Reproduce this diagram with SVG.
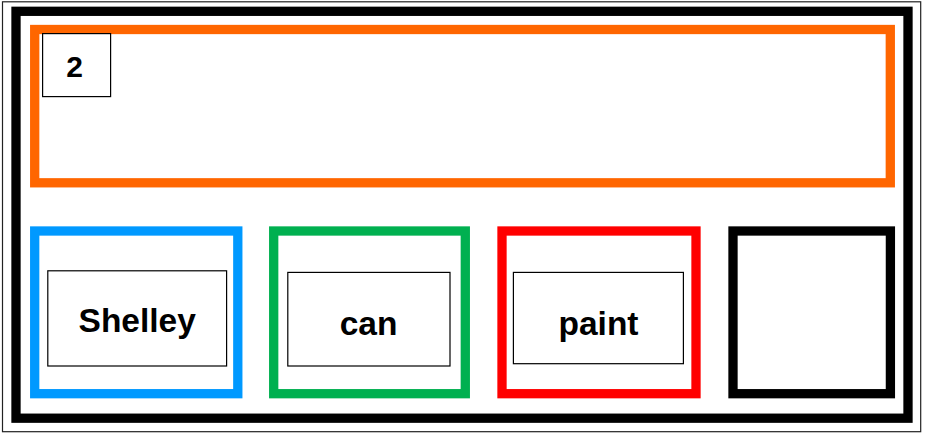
<svg xmlns="http://www.w3.org/2000/svg" width="925" height="435" viewBox="0 0 925 435">
<style>
.frame{fill:none;stroke-width:9.3}
.inner{fill:#fff;stroke:#000;stroke-width:1.2}
.lbl{font-family:"Liberation Sans",Arial,sans-serif;font-weight:bold;font-size:33.5px;text-anchor:middle;fill:#000}
</style>
<rect x="0" y="0" width="925" height="435" fill="#fff"/>
<g id="outer">
<rect x="2.5" y="1.8" width="918.2" height="429.9" fill="none" stroke="#222" stroke-width="1.2"/>
<rect x="16" y="11.3" width="892" height="406.9" fill="none" stroke="#000" stroke-width="9.3"/>
</g>
<g id="node-orange">
<rect class="frame" x="34.7" y="29.5" width="855.6" height="153.3" stroke="#FF6600"/>
<rect class="inner" x="42.6" y="33.6" width="68" height="63"/>
<text class="lbl" x="74.7" y="76.7" style="font-size:30px">2</text>
</g>
<g id="node-shelley">
<rect class="frame" x="34.7" y="231" width="203.1" height="162.7" stroke="#0099FF"/>
<rect class="inner" x="47.8" y="270.8" width="178.8" height="95.2"/>
<text class="lbl" x="137.2" y="332">Shelley</text>
</g>
<g id="node-can">
<rect class="frame" x="273.7" y="231" width="191.6" height="162.7" stroke="#00B050"/>
<rect class="inner" x="287.8" y="272.4" width="162.2" height="93.6"/>
<text class="lbl" x="368.5" y="335">can</text>
</g>
<g id="node-paint">
<rect class="frame" x="502" y="231" width="194" height="162.7" stroke="#FF0000"/>
<rect class="inner" x="513.4" y="272.4" width="170" height="91.3"/>
<text class="lbl" x="598.5" y="335">paint</text>
</g>
<g id="node-empty">
<rect class="frame" x="733" y="231" width="157.4" height="162.7" stroke="#000"/>
</g>
<g id="connectors"></g>
</svg>
